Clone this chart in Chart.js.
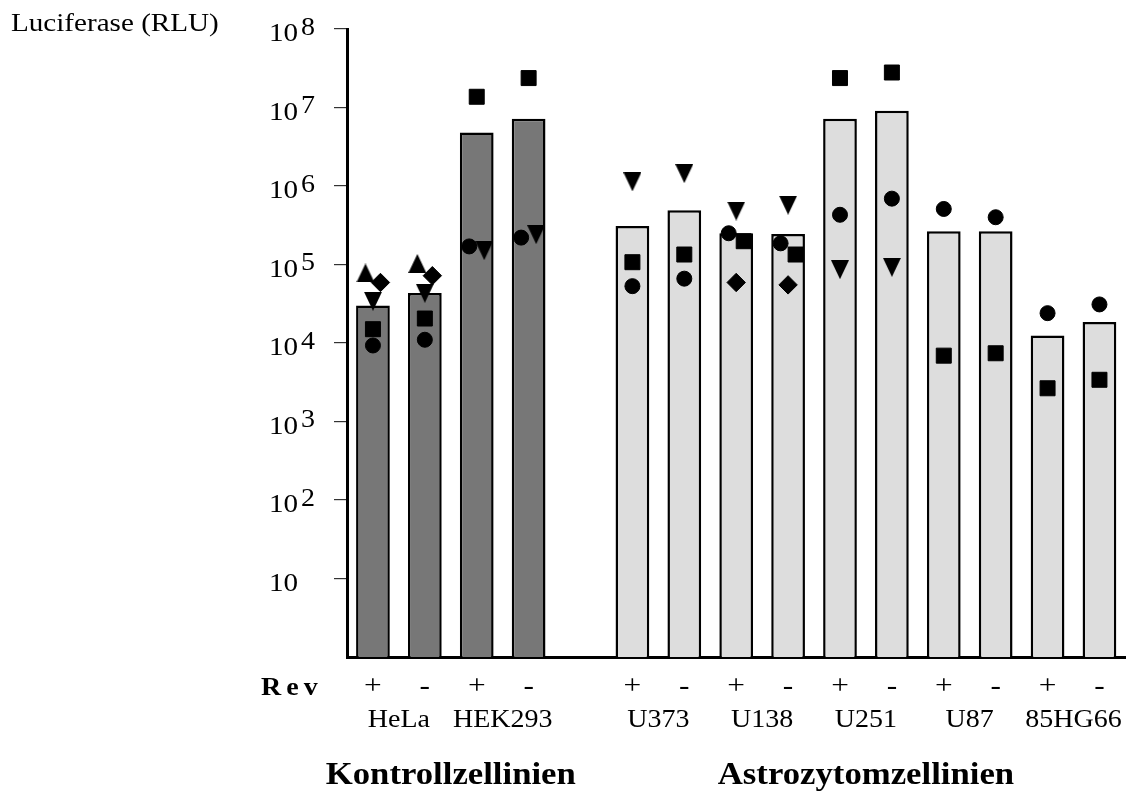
<!DOCTYPE html>
<html lang="de">
<head>
<meta charset="utf-8">
<title>Luciferase (RLU)</title>
<script src="https://cdn.jsdelivr.net/npm/chart.js"></script>
<style>
  html, body { margin: 0; padding: 0; background: #fff; overflow: hidden; }
  canvas { display: block; }
</style>
</head>
<body>
<canvas id="rluChart" width="1137" height="792"></canvas>
<script>
// cell lines, each measured with (+) and without (-) Rev
const cellLines = ['HeLa', 'HEK293', 'U373', 'U138', 'U251', 'U87', '85HG66'];
const lineGroup = [0, 0, 1, 1, 1, 1, 1];
const groupNames = ['Kontrollzellinien', 'Astrozytomzellinien'];
const revStates = ['+', '-'];
const yDecades = [1, 2, 3, 4, 5, 6, 7, 8];

// one value per bar, in the order HeLa +, HeLa -, HEK293 +, ...
const meanRLU    = [3.0e4, 4.35e4, 4.8e6, 7.2e6, 3.1e5, 4.9e5, 2.5e5, 2.45e5, 7.2e6, 9.1e6, 2.65e5, 2.65e5, 1.25e4, 1.85e4];
const circleRLU  = [9.3e3, 1.1e4, 1.7e5, 2.2e5, 5.3e4, 6.6e4, 2.5e5, 1.86e5, 4.3e5, 6.9e5, 5.1e5, 4.0e5, 2.4e4, 3.1e4];
const squareRLU  = [1.5e4, 2.05e4, 1.37e7, 2.37e7, 1.07e5, 1.34e5, 1.98e5, 1.34e5, 2.37e7, 2.79e7, 6.9e3, 7.4e3, 2.65e3, 3.4e3];
const triDownRLU = [3.4e4, 4.3e4, 1.5e5, 2.4e5, 1.13e6, 1.44e6, 4.8e5, 5.7e5, 8.6e4, 9.2e4, null, null, null, null];
const triUpRLU   = [7.8e4, 1.03e5, null, null, null, null, null, null, null, null, null, null, null, null];
const diamondRLU = [5.9e4, 7.2e4, null, null, null, null, 5.9e4, 5.5e4, null, null, null, null, null, null];

const groupColors = ['#777777', '#dddddd'];
const serif = '"Liberation Serif", "Times New Roman", serif';
const stretch = 1.12;

// x slots: two bars per cell line, one empty slot between the two groups
const slotLabels = [];
const slotBar = [];      // slot -> bar index (or null for the spacer)
const barSlot = [];      // bar index -> slot
cellLines.forEach((name, i) => {
    if (i > 0 && lineGroup[i] !== lineGroup[i - 1]) {
        slotLabels.push('');
        slotBar.push(null);
    }
    revStates.forEach((rev, k) => {
        barSlot.push(slotLabels.length);
        slotBar.push(i * 2 + k);
        slotLabels.push(name + ' ' + rev);
    });
});
const toSlots = values => slotBar.map(b => b === null ? null : values[b]);
const barColors = slotBar.map(b => b === null ? 'transparent' : groupColors[lineGroup[Math.floor(b / 2)]]);

function triangleMark(down) {
    const c = document.createElement('canvas');
    c.width = 18;
    c.height = 19;
    const g = c.getContext('2d');
    g.fillStyle = '#000';
    g.beginPath();
    if (down) {
        g.moveTo(0, 0); g.lineTo(18, 0); g.lineTo(9, 19);
    } else {
        g.moveTo(9, 0); g.lineTo(18, 19); g.lineTo(0, 19);
    }
    g.closePath();
    g.fill();
    return c;
}

function markSeries(label, values, style, radius) {
    return {
        type: 'line',
        label: label,
        data: toSlots(values),
        showLine: false,
        pointStyle: style,
        pointRadius: radius,
        pointBackgroundColor: '#000',
        pointBorderColor: '#000',
        pointBorderWidth: 1,
        order: 0
    };
}

// stretched serif text, drawn onto the chart canvas
function put(ctx, str, x, y, font, align) {
    ctx.save();
    ctx.font = font;
    ctx.fillStyle = '#000';
    ctx.textAlign = align || 'left';
    ctx.textBaseline = 'alphabetic';
    ctx.translate(x, y);
    ctx.scale(stretch, 1);
    ctx.fillText(str, 0, 0);
    ctx.restore();
}

// replicate marks that sit at almost the same height are moved apart sideways
const spreadMarks = {
    id: 'spreadMarks',
    afterDatasetsUpdate(chart) {
        const metas = chart.data.datasets
            .map((d, i) => chart.getDatasetMeta(i))
            .filter(m => m.type === 'line');
        slotLabels.forEach((_, idx) => {
            const pts = [];
            metas.forEach(m => {
                const el = m.data[idx];
                if (el && !el.skip && !isNaN(el.y)) pts.push(el);
            });
            const used = new Set();
            pts.forEach(p => {
                if (used.has(p)) return;
                const near = pts.filter(q => !used.has(q) && Math.abs(q.y - p.y) < 15);
                near.forEach((q, k) => {
                    used.add(q);
                    q.x += (k - (near.length - 1) / 2) * 15;
                });
            });
        });
    }
};

// axis numbers, Rev row, cell line names and group titles
const axisText = {
    id: 'axisText',
    afterDraw(chart) {
        const ctx = chart.ctx;
        const x = chart.scales.x;
        const y = chart.scales.y;
        const left = chart.chartArea.left;
        const bottom = chart.chartArea.bottom;

        put(ctx, 'Luciferase (RLU)', 11, 31, '26px ' + serif);

        yDecades.forEach(e => {
            const py = y.getPixelForValue(Math.pow(10, e));
            put(ctx, '10', left - 78, py + 12, '26px ' + serif);
            if (e > 1) put(ctx, String(e), left - 46, py + 5.5, '25px ' + serif);
        });

        // "Rev" with wide letter spacing
        ctx.save();
        ctx.font = 'bold 25px ' + serif;
        let rx = 261;
        'Rev'.split('').forEach(ch => {
            put(ctx, ch, rx, bottom + 38, 'bold 25px ' + serif);
            rx += ctx.measureText(ch).width * stretch + 5;
        });
        ctx.restore();

        barSlot.forEach((slot, b) => {
            put(ctx, revStates[b % 2], x.getPixelForValue(slot), bottom + 37, '28px ' + serif, 'center');
        });

        cellLines.forEach((name, i) => {
            const cx = (x.getPixelForValue(barSlot[i * 2]) + x.getPixelForValue(barSlot[i * 2 + 1])) / 2;
            put(ctx, name, cx, bottom + 70, '25px ' + serif, 'center');
        });

        groupNames.forEach((name, g) => {
            const slots = barSlot.filter((s, b) => lineGroup[Math.floor(b / 2)] === g);
            const cx = (x.getPixelForValue(slots[0]) + x.getPixelForValue(slots[slots.length - 1])) / 2;
            put(ctx, name, cx, bottom + 127, 'bold 31px ' + serif, 'center');
        });
    }
};

const ctx = document.getElementById('rluChart').getContext('2d');
const rluChart = new Chart(ctx, {
    type: 'bar',
    data: {
        labels: slotLabels,
        datasets: [
            {
                label: 'Luciferase',
                data: toSlots(meanRLU),
                backgroundColor: barColors,
                borderColor: '#000',
                borderWidth: 2.5,
                barPercentage: 0.65,
                categoryPercentage: 1,
                order: 1
            },
            markSeries('circle', circleRLU, 'circle', 7.5),
            markSeries('square', squareRLU, 'rect', 10.6),
            markSeries('down', triDownRLU, triangleMark(true), 9),
            markSeries('up', triUpRLU, triangleMark(false), 9),
            markSeries('diamond', diamondRLU, 'rectRot', 9.2)
        ]
    },
    options: {
        responsive: false,
        animation: false,
        layout: { padding: { left: 334, right: 11, top: 29, bottom: 127 } },
        plugins: {
            legend: { display: false },
            tooltip: { enabled: false }
        },
        scales: {
            x: {
                offset: true,
                grid: { display: false },
                ticks: { display: false },
                border: { display: true, color: '#000', width: 3 }
            },
            y: {
                type: 'logarithmic',
                min: 1,
                max: 1e8,
                ticks: { display: false },
                grid: { drawOnChartArea: false, drawTicks: true, tickLength: 13, color: '#333', lineWidth: 1.2 },
                border: { display: true, color: '#000', width: 3 },
                afterBuildTicks: scale => {
                    scale.ticks = yDecades.map(e => ({ value: Math.pow(10, e) }));
                }
            }
        }
    },
    plugins: [spreadMarks, axisText]
});
</script>
</body>
</html>
